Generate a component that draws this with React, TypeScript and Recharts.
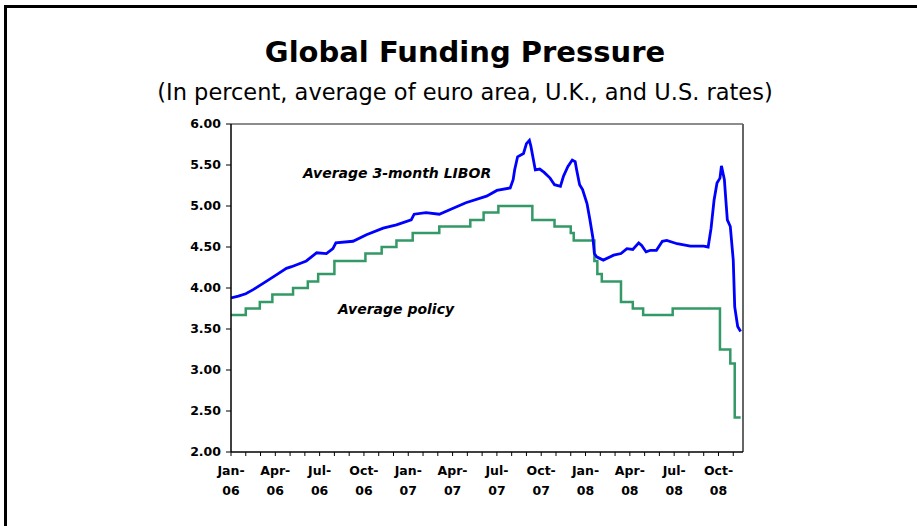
import React from "react";
import { LineChart, Line, XAxis, YAxis, ReferenceLine } from "recharts";

// Months since Jan-2006 (0 = Jan-06)
const liborMonths = [0, 0.5, 1, 1.5, 2.2, 3.07, 3.75, 4.1, 5.1, 5.8, 6.46, 6.9, 7.1, 8.26, 9.17, 10.3, 11.2, 12.2, 12.4, 13.2, 14.1, 15.0, 15.9, 17.3, 18.0, 18.9, 19.1, 19.2, 19.4, 19.8, 20.0, 20.2, 20.3, 20.6, 20.9, 21.2, 21.6, 21.9, 22.3, 22.5, 22.8, 23.1, 23.3, 23.4, 23.6, 23.8, 24.1, 24.3, 24.5, 24.6, 24.75, 25.2, 25.9, 26.4, 26.8, 27.2, 27.6, 27.8, 28.1, 28.4, 28.8, 29.2, 29.5, 30.2, 31.1, 32.0, 32.3, 32.5, 32.7, 32.9, 33.1, 33.2, 33.4, 33.5, 33.6, 33.8, 34.0, 34.1, 34.3, 34.5];
const liborValues = [3.88, 3.9, 3.93, 3.98, 4.06, 4.16, 4.24, 4.26, 4.33, 4.43, 4.42, 4.48, 4.55, 4.57, 4.65, 4.73, 4.77, 4.83, 4.9, 4.92, 4.9, 4.97, 5.04, 5.12, 5.19, 5.22, 5.32, 5.44, 5.6, 5.64, 5.76, 5.8, 5.73, 5.44, 5.45, 5.41, 5.34, 5.26, 5.24, 5.36, 5.48, 5.56, 5.54, 5.44, 5.26, 5.2, 5.03, 4.83, 4.61, 4.42, 4.38, 4.34, 4.4, 4.42, 4.48, 4.47, 4.55, 4.52, 4.44, 4.46, 4.46, 4.57, 4.58, 4.54, 4.51, 4.51, 4.5, 4.73, 5.07, 5.28, 5.34, 5.49, 5.32, 5.07, 4.83, 4.75, 4.34, 3.77, 3.53, 3.47];

const policyMonths = [0, 1.0, 1.95, 2.8, 4.2, 5.2, 5.9, 7.0, 9.1, 10.2, 11.2, 12.3, 14.1, 16.2, 17.1, 18.1, 20.4, 21.9, 23.0, 23.2, 24.6, 24.8, 25.1, 26.4, 27.2, 27.9, 29.9, 33.1, 33.8, 34.1, 34.5];
const policyValues = [3.67, 3.75, 3.83, 3.92, 4.0, 4.08, 4.17, 4.33, 4.42, 4.5, 4.58, 4.67, 4.75, 4.83, 4.92, 5.0, 4.83, 4.75, 4.67, 4.58, 4.33, 4.17, 4.08, 3.83, 3.75, 3.67, 3.75, 3.25, 3.08, 2.42, 2.42];

const xTickTop = ["Jan-", "Apr-", "Jul-", "Oct-", "Jan-", "Apr-", "Jul-", "Oct-", "Jan-", "Apr-", "Jul-", "Oct-"];
const xTickBottom = ["06", "06", "06", "06", "07", "07", "07", "07", "08", "08", "08", "08"];
const yTicks = [2.0, 2.5, 3.0, 3.5, 4.0, 4.5, 5.0, 5.5, 6.0];

const xMax = 34.66;
const monthTicks = Array.from({ length: 35 }, (_, i) => i);

const liborData = liborMonths.map((m, i) => ({ m, v: liborValues[i] }));
const policyData = policyMonths.map((m, i) => ({ m, v: policyValues[i] }));

const FONT = "'DejaVu Sans', Verdana, sans-serif";

const XTick = (props: any) => {
  const { x, y, payload } = props;
  const m = payload.value;
  if (m % 3 !== 0) return <g />;
  const idx = m / 3;
  return (
    <g>
      <text x={x} y={y + 17} textAnchor="middle" fontFamily={FONT} fontWeight="bold" fontSize={12.5} fill="#000">
        {xTickTop[idx]}
      </text>
      <text x={x} y={y + 37} textAnchor="middle" fontFamily={FONT} fontWeight="bold" fontSize={12.5} fill="#000">
        {xTickBottom[idx]}
      </text>
    </g>
  );
};

export default function App() {
  return (
    <div style={{ position: "absolute", left: 0, top: 0, width: 917, height: 526, background: "#fff", overflow: "hidden" }}>
      <div style={{ position: "absolute", left: 4, top: 5, right: -10, bottom: -10, borderTop: "3px solid #000", borderLeft: "3px solid #000" }} />
      <div style={{ position: "absolute", left: 0, width: 930, top: 34, textAlign: "center", fontFamily: FONT, fontWeight: "bold", fontSize: 29, lineHeight: "36px", color: "#000" }}>
        Global Funding Pressure
      </div>
      <div style={{ position: "absolute", left: 0, width: 930, top: 77, textAlign: "center", fontFamily: FONT, fontSize: 22.5, lineHeight: "30px", color: "#000", whiteSpace: "nowrap" }}>
        (In percent, average of euro area, U.K., and U.S. rates)
      </div>
      <div style={{ position: "absolute", left: 303, top: 164, fontFamily: FONT, fontWeight: "bold", fontStyle: "italic", fontSize: 14, lineHeight: "18px", color: "#000", whiteSpace: "nowrap" }}>
        Average 3-month LIBOR
      </div>
      <div style={{ position: "absolute", left: 338, top: 300, fontFamily: FONT, fontWeight: "bold", fontStyle: "italic", fontSize: 14, lineHeight: "18px", color: "#000", whiteSpace: "nowrap" }}>
        Average policy
      </div>
      <div style={{ position: "absolute", left: 0, top: 0 }}>
        <LineChart width={917} height={526} margin={{ top: 124, right: 174, bottom: 24, left: 171 }}>
          <XAxis
            dataKey="m"
            type="number"
            domain={[0, xMax]}
            ticks={monthTicks}
            interval={0}
            allowDataOverflow
            height={50}
            tick={<XTick />}
            tickSize={4}
            tickLine={{ stroke: "#000", strokeWidth: 1 }}
            axisLine={{ stroke: "#000", strokeWidth: 1.5 }}
          />
          <YAxis
            type="number"
            domain={[2, 6]}
            ticks={yTicks}
            interval={0}
            width={60}
            tickFormatter={(v: number) => v.toFixed(2)}
            tick={{ fontFamily: FONT, fontWeight: "bold", fontSize: 12.5, fill: "#000" }}
            tickSize={5}
            tickMargin={5}
            tickLine={{ stroke: "#000", strokeWidth: 1 }}
            axisLine={{ stroke: "#000", strokeWidth: 1.5 }}
          />
          <ReferenceLine y={6} stroke="#666" strokeWidth={1.5} />
          <ReferenceLine x={xMax} stroke="#666" strokeWidth={2} />
          <Line data={policyData} dataKey="v" type="stepAfter" stroke="#339966" strokeWidth={2.5} dot={false} isAnimationActive={false} />
          <Line data={liborData} dataKey="v" type="linear" stroke="#0000FF" strokeWidth={2.8} dot={false} isAnimationActive={false} />
        </LineChart>
      </div>
    </div>
  );
}
